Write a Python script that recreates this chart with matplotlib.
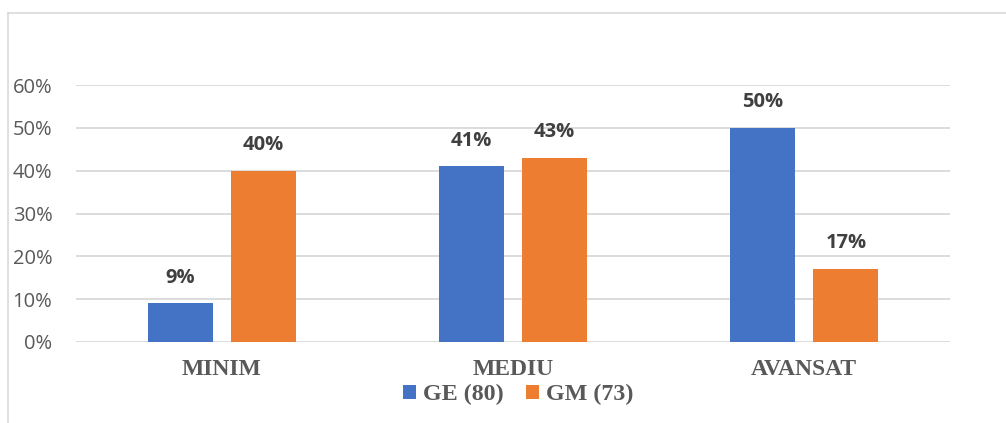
import numpy as np
import matplotlib.pyplot as plt
from matplotlib.lines import Line2D

categorii = ["MINIM", "MEDIU", "AVANSAT"]
ge_80 = [0.09, 0.41, 0.50]
gm_73 = [0.40, 0.43, 0.17]
y_ticks = [0, 0.1, 0.2, 0.3, 0.4, 0.5, 0.6]
y_labels = ["0%", "10%", "20%", "30%", "40%", "50%", "60%"]

albastru = "#4472c4"
portocaliu = "#ed7d31"
gri_text = "#595959"

fig = plt.figure(figsize=(10.06, 4.23), dpi=100)
ax = fig.add_axes([0.0755, 0.1915, 0.8688, 0.6075])

x = np.arange(len(categorii))
w = 0.223
off = 0.1425
b1 = ax.bar(x - off, ge_80, w, color=albastru, label="GE (80)", zorder=3)
b2 = ax.bar(x + off, gm_73, w, color=portocaliu, label="GM (73)", zorder=3)

for bars, vals in [(b1, ge_80), (b2, gm_73)]:
    for b, v in zip(bars, vals):
        ax.annotate(f"{round(v * 100)}%", (b.get_x() + b.get_width() / 2, v),
                    xytext=(0, 18.5), textcoords="offset points", ha="center", va="center",
                    fontsize=14.5, fontweight="bold", color="#404040", family="Open Sans")

ax.set_xlim(-0.5, 2.5)
ax.set_ylim(0, 0.6)
ax.set_yticks(y_ticks)
ax.set_yticklabels(y_labels, fontsize=14.5, color=gri_text, family="Open Sans")
ax.tick_params(axis="y", length=0, pad=17)
ax.set_xticks(x)
ax.set_xticklabels(categorii, fontsize=17, fontweight="bold", color=gri_text, family="Liberation Serif")
ax.tick_params(axis="x", length=0, pad=12)
ax.grid(axis="y", color="#d9d9d9", lw=1.3, zorder=0)
for s in ax.spines.values():
    s.set_visible(False)

leg = ax.legend(loc="center", bbox_to_anchor=(0.506, -0.205), ncol=2, frameon=False,
                handlelength=0.53, handleheight=0.53, handletextpad=0.28, columnspacing=0.95,
                prop={"family": "Liberation Serif", "weight": "bold", "size": 17.3})
for t in leg.get_texts():
    t.set_color(gri_text)

# chenarul graficului
fig.add_artist(Line2D([8 / 1006, 1], [1 - 13 / 423, 1 - 13 / 423], color="#d9d9d9", lw=1.2))
fig.add_artist(Line2D([8 / 1006, 8 / 1006], [0, 1 - 13 / 423], color="#d9d9d9", lw=1.2))

fig.savefig("out.png", dpi=100)
